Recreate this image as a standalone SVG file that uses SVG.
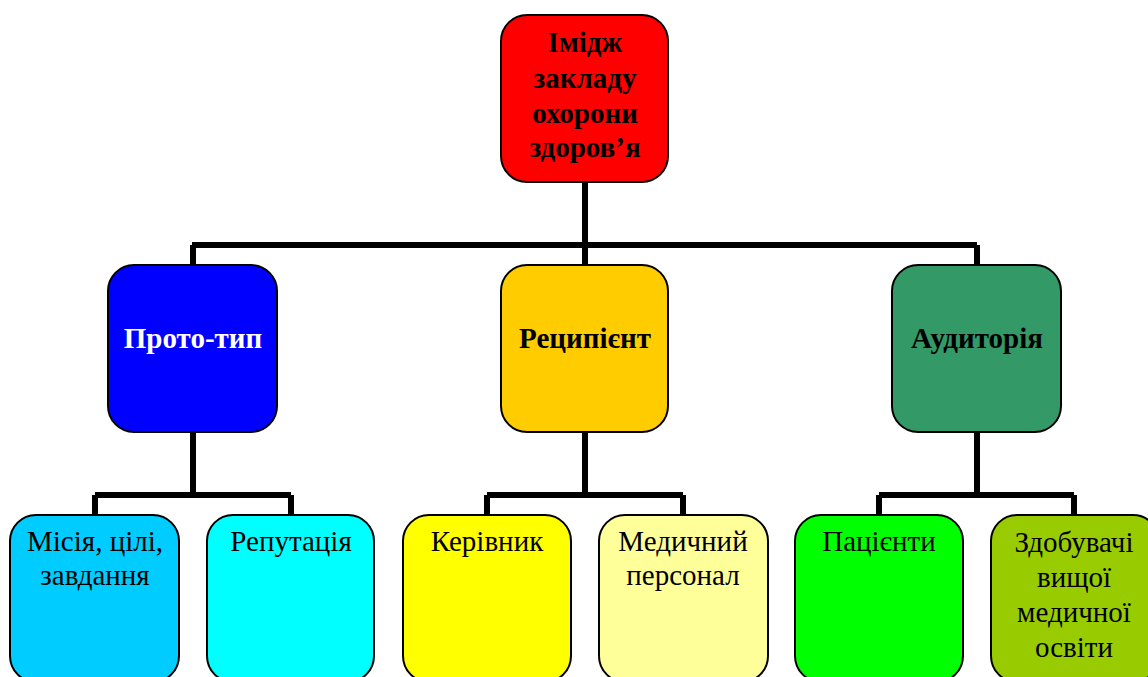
<svg xmlns="http://www.w3.org/2000/svg" width="1148" height="677" viewBox="0 0 1148 677">
<style>
.box{stroke:#000;stroke-width:2}
.c{fill:none;stroke:#000;stroke-width:6}
.tb{font-family:"Liberation Serif","Times New Roman",serif;font-weight:bold;text-anchor:middle}
.tr{font-family:"Liberation Serif","Times New Roman",serif;font-size:29px;text-anchor:middle;fill:#000}
</style>
<rect width="1148" height="677" fill="#fff"/>
<g id="connectors">
<path class="c" d="M585 182V245M192 245H977M193 245V265M585 245V265M977 245V265"/>
<path class="c" d="M193 432V495M95 495H291M95 495V515M291 495V515"/>
<path class="c" d="M585 432V495M487 495H683M487 495V515M683 495V515"/>
<path class="c" d="M977 432V495M879 495H1074M879 495V515M1074 495V515"/>
</g>
<g id="n-root">
<rect class="box" x="501" y="15" width="167" height="167" rx="26" fill="#FF0000"/>
<text class="tb" font-size="29" fill="#000"><tspan x="585" y="52">Імідж</tspan><tspan x="585" y="88">закладу</tspan><tspan x="585" y="123">охорони</tspan><tspan x="585" y="157">здоров’я</tspan></text>
</g>
<g id="n-proto">
<rect class="box" x="108" y="265" width="169" height="167" rx="26" fill="#0000FF"/>
<text class="tb" font-size="29" fill="#fff" x="193" y="348">Прото-тип</text>
</g>
<g id="n-recip">
<rect class="box" x="501" y="265" width="167" height="167" rx="26" fill="#FFCC00"/>
<text class="tb" font-size="29" fill="#000" x="585" y="348">Реципієнт</text>
</g>
<g id="n-aud">
<rect class="box" x="892" y="265" width="169" height="167" rx="26" fill="#339966"/>
<text class="tb" font-size="29" fill="#000" x="977" y="348">Аудиторія</text>
</g>
<g id="n-mission">
<rect class="box" x="10" y="515" width="169" height="167" rx="26" fill="#00CCFF"/>
<text class="tr"><tspan x="95" y="551">Місія, цілі,</tspan><tspan x="95" y="585">завдання</tspan></text>
</g>
<g id="n-reput">
<rect class="box" x="207" y="515" width="167" height="167" rx="26" fill="#00FFFF"/>
<text class="tr" x="291" y="551">Репутація</text>
</g>
<g id="n-head">
<rect class="box" x="403" y="515" width="168" height="167" rx="26" fill="#FFFF00"/>
<text class="tr" x="487" y="551">Керівник</text>
</g>
<g id="n-staff">
<rect class="box" x="599" y="515" width="169" height="167" rx="26" fill="#FFFF99"/>
<text class="tr"><tspan x="683" y="551">Медичний</tspan><tspan x="683" y="585">персонал</tspan></text>
</g>
<g id="n-patients">
<rect class="box" x="795" y="515" width="168" height="167" rx="26" fill="#00FF00"/>
<text class="tr" x="879" y="551">Пацієнти</text>
</g>
<g id="n-students">
<rect class="box" x="991" y="515" width="168" height="167" rx="26" fill="#99CC00"/>
<text class="tr"><tspan x="1074" y="552">Здобувачі</tspan><tspan x="1074" y="587">вищої</tspan><tspan x="1074" y="622">медичної</tspan><tspan x="1074" y="657">освіти</tspan></text>
</g>
</svg>
